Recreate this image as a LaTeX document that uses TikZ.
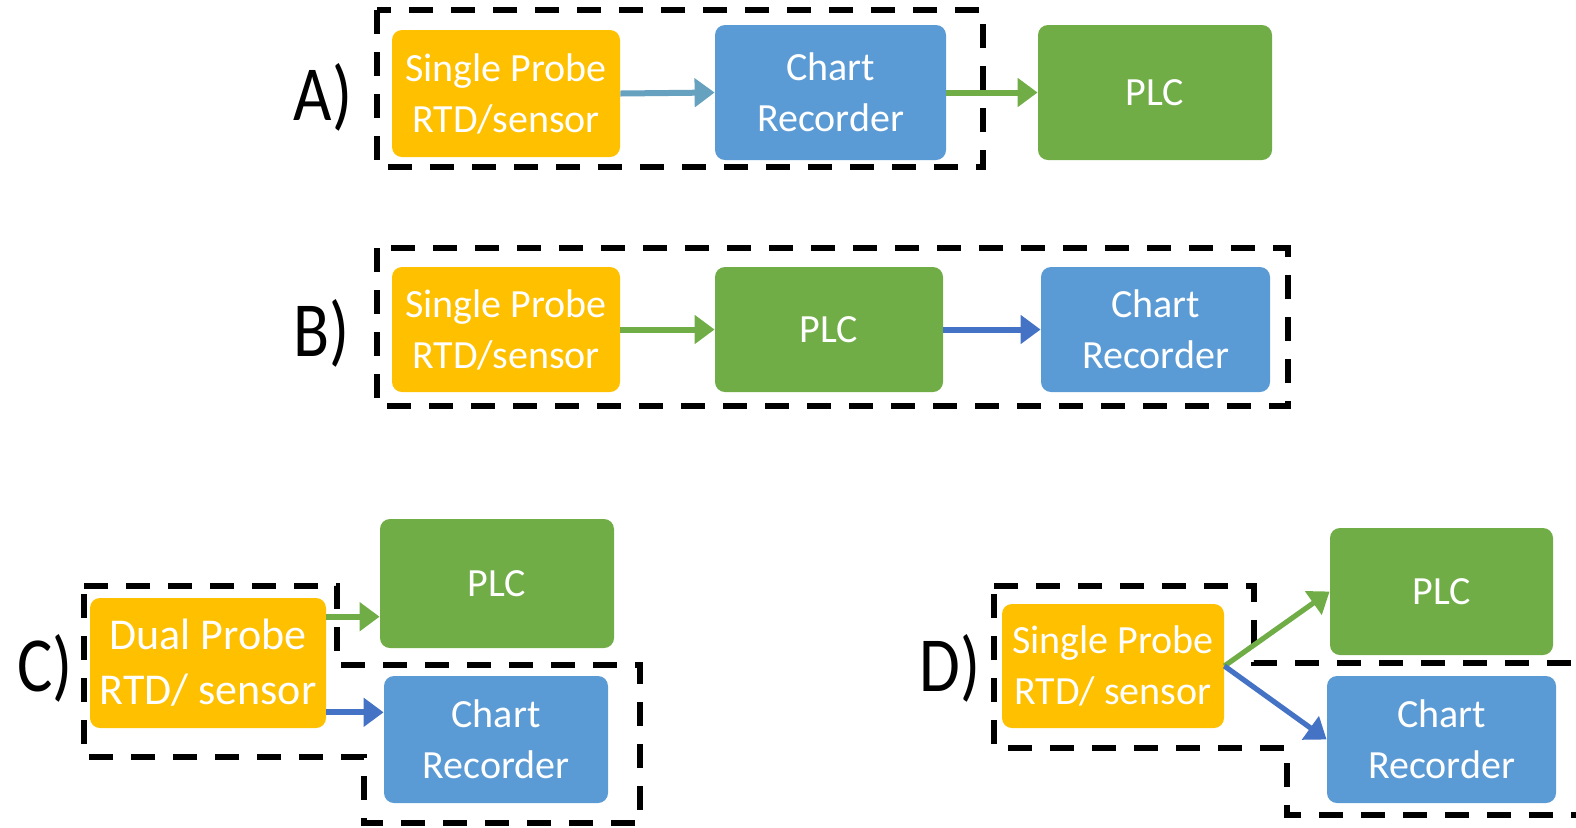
\documentclass[tikz,border=0pt]{standalone}
\usepackage{fontspec}
\setmainfont{Carlito}
\usepackage{graphicx}
\usetikzlibrary{arrows.meta,calc}
\definecolor{probeyellow}{HTML}{FFC000}
\definecolor{chartblue}{HTML}{5B9BD5}
\definecolor{plcgreen}{HTML}{70AD47}
\definecolor{linkblue}{HTML}{4472C4}
\definecolor{linkmix}{HTML}{66A1C0}

\begin{document}
\begin{tikzpicture}[
    x=0.5pt, y=-0.5pt,
    blk/.style={rectangle, rounded corners=5pt, text=white, align=center, inner sep=0pt,
                font=\fontsize{20}{25.5}\selectfont},
    probe/.style={blk, fill=probeyellow},
    chart/.style={blk, fill=chartblue},
    plc/.style={blk, fill=plcgreen},
    grp/.style={draw=black, line width=2.6pt, dash pattern=on 12pt off 9pt},
    lnk/.style={line width=3pt, -{Triangle[length=10pt,width=14pt]}},
    tag/.style={font=\fontsize{39}{40}\selectfont}
]
    \useasboundingbox (0,0) rectangle (1576,827);
    \clip (0,0) rectangle (1576,827);

    % A) probe -> chart recorder -> PLC
    \node[tag] (tagA) at (323,97) {\scalebox{0.85}[1]{A)}};
    \node[probe, minimum width=114pt, minimum height=63.5pt] (ya) at (506,93.5) {Single Probe\\RTD/sensor};
    \node[chart, minimum width=115.5pt, minimum height=67.5pt] (ca) at (830.5,92.5) {Chart\\Recorder};
    \node[plc, minimum width=117pt, minimum height=67.5pt] (pa) at (1155,92.5) {PLC};
    \draw[grp] (377,10) rectangle (983,167);
    \draw[lnk, linkmix] (ya.east) -- (ca.west);
    \draw[lnk, plcgreen] (ca.east) -- (pa.west);

    % B) probe -> PLC -> chart recorder
    \node[tag] (tagB) at (322,333) {\scalebox{0.85}[1]{B)}};
    \node[probe, minimum width=114pt, minimum height=62.5pt] (yb) at (506,329.5) {Single Probe\\RTD/sensor};
    \node[plc, minimum width=114pt, minimum height=62.5pt] (pb) at (829,329.5) {PLC};
    \node[chart, minimum width=114.5pt, minimum height=62.5pt] (cb) at (1155.5,329.5) {Chart\\Recorder};
    \draw[grp] (377,248) rectangle (1288,406);
    \draw[lnk, plcgreen] (yb.east) -- (pb.west);
    \draw[lnk, linkblue] (pb.east) -- (cb.west);

    % C) dual probe
    \node[tag] (tagC) at (45,668) {\scalebox{0.85}[1]{C)}};
    \node[probe, minimum width=118pt, minimum height=65pt,
          font=\fontsize{22}{27.5}\selectfont] (yc) at (208,663) {Dual Probe\\RTD/ sensor};
    \node[plc, minimum width=117pt, minimum height=64.5pt] (pc) at (497,583.5) {PLC};
    \node[chart, minimum width=112pt, minimum height=63.5pt] (cc) at (496,739.5) {Chart\\Recorder};
    \draw[grp] (84,586) -- (337,586) -- (337,665) -- (640,665) -- (640,823)
               -- (364,823) -- (364,757) -- (84,757) -- cycle;
    \coordinate (yc1) at ($(yc.north east)!0.146!(yc.south east)$);
    \coordinate (yc2) at ($(yc.north east)!0.877!(yc.south east)$);
    \draw[lnk, plcgreen] (yc1) -- (yc1 -| pc.west);
    \draw[lnk, linkblue] (yc2) -- (yc2 -| cc.west);

    % D) single probe split
    \node[tag] (tagD) at (950,668) {\scalebox{0.85}[1]{D)}};
    \node[probe, minimum width=111pt, minimum height=62pt] (yd) at (1113,666) {Single Probe\\RTD/ sensor};
    \node[plc, minimum width=111.5pt, minimum height=63.5pt] (pd) at (1441.5,591.5) {PLC};
    \node[chart, minimum width=114.5pt, minimum height=63.5pt] (cd) at (1441.5,739.5) {Chart\\Recorder};
    \draw[grp] (994,586) -- (1254,586) -- (1254,663) -- (1600,663) -- (1600,815)
               -- (1287,815) -- (1287,748) -- (994,748) -- cycle;
    \draw[lnk, line width=2.6pt, plcgreen] (yd.east) -- (pd.west);
    \draw[lnk, line width=2.6pt, linkblue] (yd.east) -- (cd.west);
\end{tikzpicture}
\end{document}
